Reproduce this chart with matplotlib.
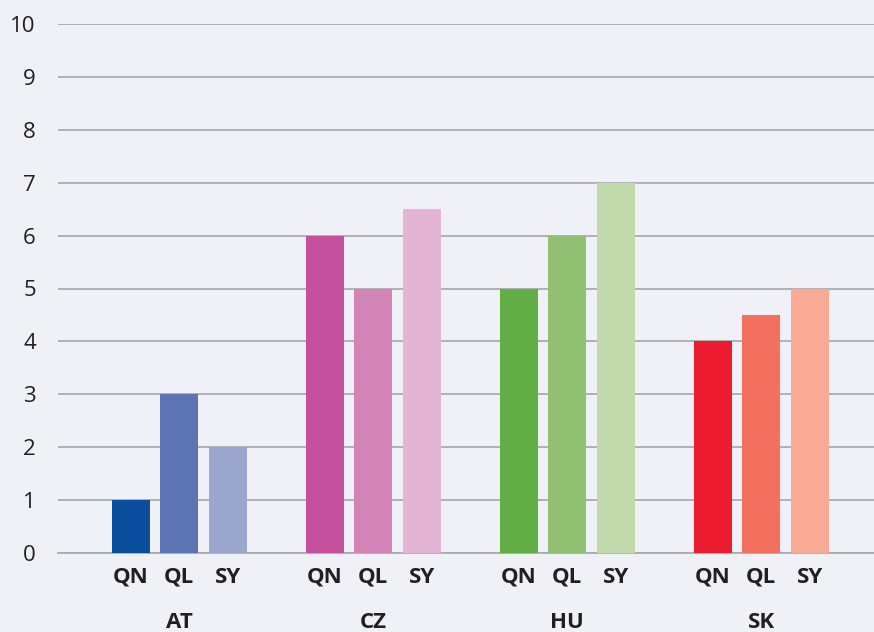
import matplotlib
matplotlib.use("Agg")
import matplotlib.pyplot as plt
import numpy as np

countries = ["AT", "CZ", "HU", "SK"]
subcats = ["QN", "QL", "SY"]
values = {
    "AT": [1, 3, 2],
    "CZ": [6, 5, 6.5],
    "HU": [5, 6, 7],
    "SK": [4, 4.5, 5],
}
colors = {
    "AT": ["#0C4E9E", "#5C74B4", "#9BA6CF"],
    "CZ": ["#C5519E", "#D384B7", "#E4B4D5"],
    "HU": ["#62AF45", "#93C174", "#C1DAAC"],
    "SK": ["#ED1B2F", "#F36F5E", "#F8AA94"],
}
yticks = list(range(0, 11))

bg = "#F0F1F7"
plt.rcParams['font.family'] = ['Open Sans', 'DejaVu Sans']

fig = plt.figure(figsize=(8.74, 6.32), dpi=100, facecolor=bg)
ax = fig.add_axes([58/874, 79/632, 1 - 58/874, (553-24)/632])
ax.set_facecolor(bg)

offset = 0.25
width = 0.196
xt, xl = [], []
for i, c in enumerate(countries):
    for j, s in enumerate(subcats):
        x = i + (j - 1) * offset
        ax.bar(x, values[c][j], width=width, color=colors[c][j], zorder=3)
        xt.append(x)
        xl.append(s)
    ax.text(i, -0.112, c, transform=ax.get_xaxis_transform(), ha='center', va='top',
            fontsize=16, fontweight='bold', color='#231F20', clip_on=False)

ax.set_xlim(-0.624, 3.582)
ax.set_ylim(0, 10)
ax.set_yticks(yticks)
ax.set_xticks(xt)
ax.set_xticklabels(xl, fontsize=16, fontweight='bold', color='#231F20')
ax.tick_params(axis='x', length=0, pad=10)
ax.tick_params(axis='y', length=0, pad=16, labelsize=16, labelcolor='#231F20')
ax.grid(axis='y', color='#ABABAF', linewidth=1.3, zorder=0)
ax.set_axisbelow(True)
for sp in ['top', 'right', 'left']:
    ax.spines[sp].set_visible(False)
ax.spines['bottom'].set_color('#ABABAF')
ax.spines['bottom'].set_linewidth(1.3)

fig.savefig("out.png", dpi=100, facecolor=bg)
